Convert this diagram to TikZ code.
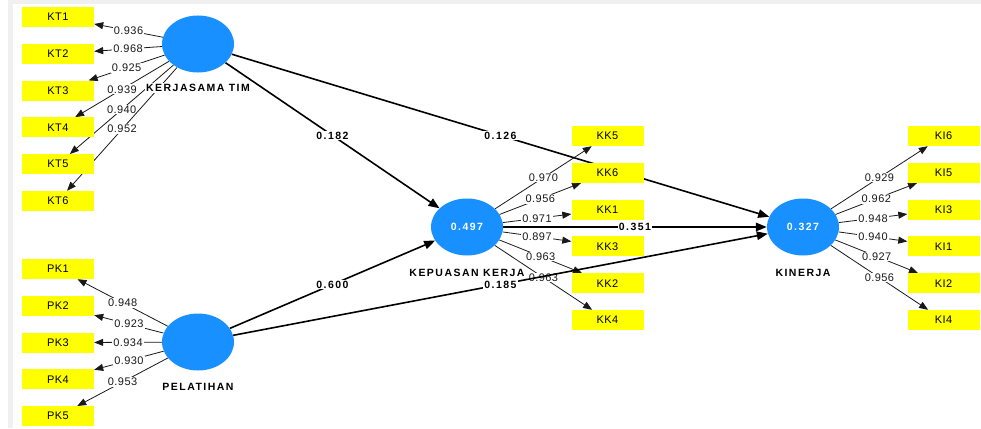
\documentclass[tikz,border=0pt]{standalone}
\usepackage{fontspec}
\setmainfont{Liberation Sans}
\newfontfamily\numfont[LetterSpace=4]{Liberation Sans}
\newfontfamily\namefont[LetterSpace=14]{Liberation Sans}
\usetikzlibrary{arrows.meta,shapes.geometric,backgrounds}
\definecolor{lvblue}{RGB}{24,144,255}
\definecolor{mvyellow}{RGB}{255,255,0}
\definecolor{framegray}{RGB}{240,240,240}

\begin{document}
\begin{tikzpicture}[x=1pt, y=-1pt,
    lv/.style={ellipse, fill=lvblue, minimum width=72pt, minimum height=57pt, inner sep=0pt, text=white, font=\namefont\bfseries\fontsize{10.5}{12}\selectfont},
    mv/.style={fill=mvyellow, minimum width=72pt, minimum height=20pt, inner sep=0pt, font=\numfont\fontsize{11}{13}\selectfont},
    lvname/.style={fill=white, inner sep=1pt, font=\namefont\bfseries\fontsize{10.5}{12}\selectfont},
    load/.style={-{Triangle[length=9pt,width=7pt]}, line width=0.8pt, black!90},
    coef/.style={-{Triangle[length=11pt,width=8.5pt]}, line width=1.6pt},
    lbl/.style={fill=white, inner sep=1pt, text=black!90, font=\numfont\fontsize{11}{13}\selectfont},
    clbl/.style={fill=white, inner sep=1pt, font=\namefont\bfseries\fontsize{10.5}{12}\selectfont}
]
\useasboundingbox (0,0) rectangle (981,428);
\fill[framegray] (8,0) rectangle (13,428);
\fill[framegray] (8,0) rectangle (981,4);

\node[lv] (kt) at (198,44) {};
\node[lv] (pk) at (198,342) {};
\node[lv] (kk) at (467,227) {0.497};
\node[lv] (ki) at (803,227) {0.327};

\node[mv] (kt1) at (58,17) {KT1};
\node[mv] (kt2) at (58,53.8) {KT2};
\node[mv] (kt3) at (58,90.6) {KT3};
\node[mv] (kt4) at (58,127.4) {KT4};
\node[mv] (kt5) at (58,164.2) {KT5};
\node[mv] (kt6) at (58,201) {KT6};

\node[mv] (pk1) at (58,269) {PK1};
\node[mv] (pk2) at (58,305.8) {PK2};
\node[mv] (pk3) at (58,342.6) {PK3};
\node[mv] (pk4) at (58,379.4) {PK4};
\node[mv] (pk5) at (58,416.2) {PK5};

\node[mv] (kk5) at (607.5,136) {KK5};
\node[mv] (kk6) at (607.5,172.8) {KK6};
\node[mv] (kk1) at (607.5,209.6) {KK1};
\node[mv] (kk3) at (607.5,246.4) {KK3};
\node[mv] (kk2) at (607.5,283.2) {KK2};
\node[mv] (kk4) at (607.5,320) {KK4};

\node[mv] (ki6) at (943.5,136) {KI6};
\node[mv] (ki5) at (943.5,172.8) {KI5};
\node[mv] (ki3) at (943.5,209.6) {KI3};
\node[mv] (ki1) at (943.5,246.4) {KI1};
\node[mv] (ki2) at (943.5,283.2) {KI2};
\node[mv] (ki4) at (943.5,320) {KI4};

\begin{scope}[on background layer]
\draw[load] (kt) -- node[lbl] {0.936} (kt1);
\draw[load] (kt) -- node[lbl] {0.968} (kt2);
\draw[load] (kt) -- node[lbl] {0.925} (kt3);
\draw[load] (kt) -- node[lbl] {0.939} (kt4);
\draw[load] (kt) -- node[lbl] {0.940} (kt5);
\draw[load] (kt) -- node[lbl] {0.952} (kt6);

\draw[load] (pk) -- node[lbl] {0.948} (pk1);
\draw[load] (pk) -- node[lbl] {0.923} (pk2);
\draw[load] (pk) -- node[lbl] {0.934} (pk3);
\draw[load] (pk) -- node[lbl] {0.930} (pk4);
\draw[load] (pk) -- node[lbl] {0.953} (pk5);

\draw[load] (kk) -- node[lbl] {0.970} (kk5);
\draw[load] (kk) -- node[lbl] {0.956} (kk6);
\draw[load] (kk) -- node[lbl] {0.971} (kk1);
\draw[load] (kk) -- node[lbl] {0.897} (kk3);
\draw[load] (kk) -- node[lbl] {0.963} (kk2);
\draw[load] (kk) -- node[lbl] {0.963} (kk4);

\draw[load] (ki) -- node[lbl] {0.929} (ki6);
\draw[load] (ki) -- node[lbl] {0.962} (ki5);
\draw[load] (ki) -- node[lbl] {0.948} (ki3);
\draw[load] (ki) -- node[lbl] {0.940} (ki1);
\draw[load] (ki) -- node[lbl] {0.927} (ki2);
\draw[load] (ki) -- node[lbl] {0.956} (ki4);

\draw[coef] (kt) -- node[clbl] {0.182} (kk);
\draw[coef] (kt) -- node[clbl] {0.126} (ki);
\draw[coef] (pk) -- node[clbl] {0.600} (kk);
\draw[coef] (pk) -- node[clbl] {0.185} (ki);
\draw[coef] (kk) -- node[clbl] {0.351} (ki);
\end{scope}

\node[lvname] (ktname) at (198,88) {KERJASAMA TIM};
\node[lvname] (pkname) at (198,387) {PELATIHAN};
\node[lvname] (kkname) at (467,273) {KEPUASAN KERJA};
\node[lvname] (kiname) at (803,273) {KINERJA};
\end{tikzpicture}
\end{document}
